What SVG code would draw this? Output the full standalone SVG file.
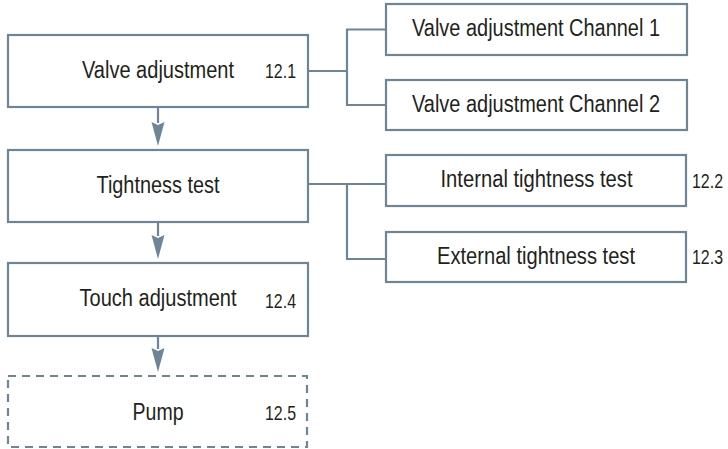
<svg xmlns="http://www.w3.org/2000/svg" width="728" height="449" viewBox="0 0 728 449">
  <style>
    .box { fill: #ffffff; stroke: #6e8598; stroke-width: 2.2; }
    .dash { fill: #ffffff; stroke: #6e8598; stroke-width: 2.2; stroke-dasharray: 8 6; }
    .line { fill: none; stroke: #6e8598; stroke-width: 2.2; }
    .head { fill: #6e8598; }
    .lbl { font-family: "Liberation Sans", Arial, sans-serif; font-size: 23px; fill: #231f20; text-anchor: middle; }
    .num { font-family: "Liberation Sans", Arial, sans-serif; font-size: 21px; fill: #231f20; }
  </style>

  <!-- connectors -->
  <g id="connectors">
    <line class="line" x1="158" y1="107" x2="158" y2="123"/>
    <path class="head" d="M151.5,122 L158,125 L164.5,122 L158,146 Z"/>
    <line class="line" x1="158" y1="222" x2="158" y2="236"/>
    <path class="head" d="M151.5,235 L158,238 L164.5,235 L158,259 Z"/>
    <line class="line" x1="158" y1="336" x2="158" y2="349"/>
    <path class="head" d="M151.5,348 L158,351 L164.5,348 L158,372 Z"/>
    <path class="line" d="M308,71 H347 M386,29.5 H347 V105 H386"/>
    <path class="line" d="M308,184 H386 M347,184 V259 H386"/>
  </g>

  <g id="valve-adjustment">
    <rect class="box" x="8" y="35" width="300" height="72"/>
    <text class="lbl" x="158" y="78" textLength="152" lengthAdjust="spacingAndGlyphs">Valve adjustment</text>
    <text class="num" x="265" y="78" textLength="31" lengthAdjust="spacingAndGlyphs">12.1</text>
  </g>

  <g id="tightness-test">
    <rect class="box" x="8" y="150" width="300" height="72"/>
    <text class="lbl" x="158" y="192.5" textLength="123" lengthAdjust="spacingAndGlyphs">Tightness test</text>
  </g>

  <g id="touch-adjustment">
    <rect class="box" x="8" y="263" width="300" height="73"/>
    <text class="lbl" x="158" y="306" textLength="157" lengthAdjust="spacingAndGlyphs">Touch adjustment</text>
    <text class="num" x="265" y="307.5" textLength="31" lengthAdjust="spacingAndGlyphs">12.4</text>
  </g>

  <g id="pump">
    <rect class="dash" x="8" y="376" width="299" height="71"/>
    <text class="lbl" x="158" y="419.5" textLength="51" lengthAdjust="spacingAndGlyphs">Pump</text>
    <text class="num" x="265" y="420" textLength="31" lengthAdjust="spacingAndGlyphs">12.5</text>
  </g>

  <g id="valve-channel-1">
    <rect class="box" x="386" y="4" width="301" height="51"/>
    <text class="lbl" x="536" y="36" textLength="248" lengthAdjust="spacingAndGlyphs">Valve adjustment Channel 1</text>
  </g>

  <g id="valve-channel-2">
    <rect class="box" x="386" y="80" width="301" height="50"/>
    <text class="lbl" x="536" y="111.5" textLength="248" lengthAdjust="spacingAndGlyphs">Valve adjustment Channel 2</text>
  </g>

  <g id="internal-tightness">
    <rect class="box" x="386" y="155" width="300" height="51"/>
    <text class="lbl" x="536.5" y="186.5" textLength="192" lengthAdjust="spacingAndGlyphs">Internal tightness test</text>
    <text class="num" x="692" y="188" textLength="31" lengthAdjust="spacingAndGlyphs">12.2</text>
  </g>

  <g id="external-tightness">
    <rect class="box" x="386" y="232" width="300" height="50"/>
    <text class="lbl" x="536" y="264" textLength="198" lengthAdjust="spacingAndGlyphs">External tightness test</text>
    <text class="num" x="692" y="263.5" textLength="31" lengthAdjust="spacingAndGlyphs">12.3</text>
  </g>
</svg>
